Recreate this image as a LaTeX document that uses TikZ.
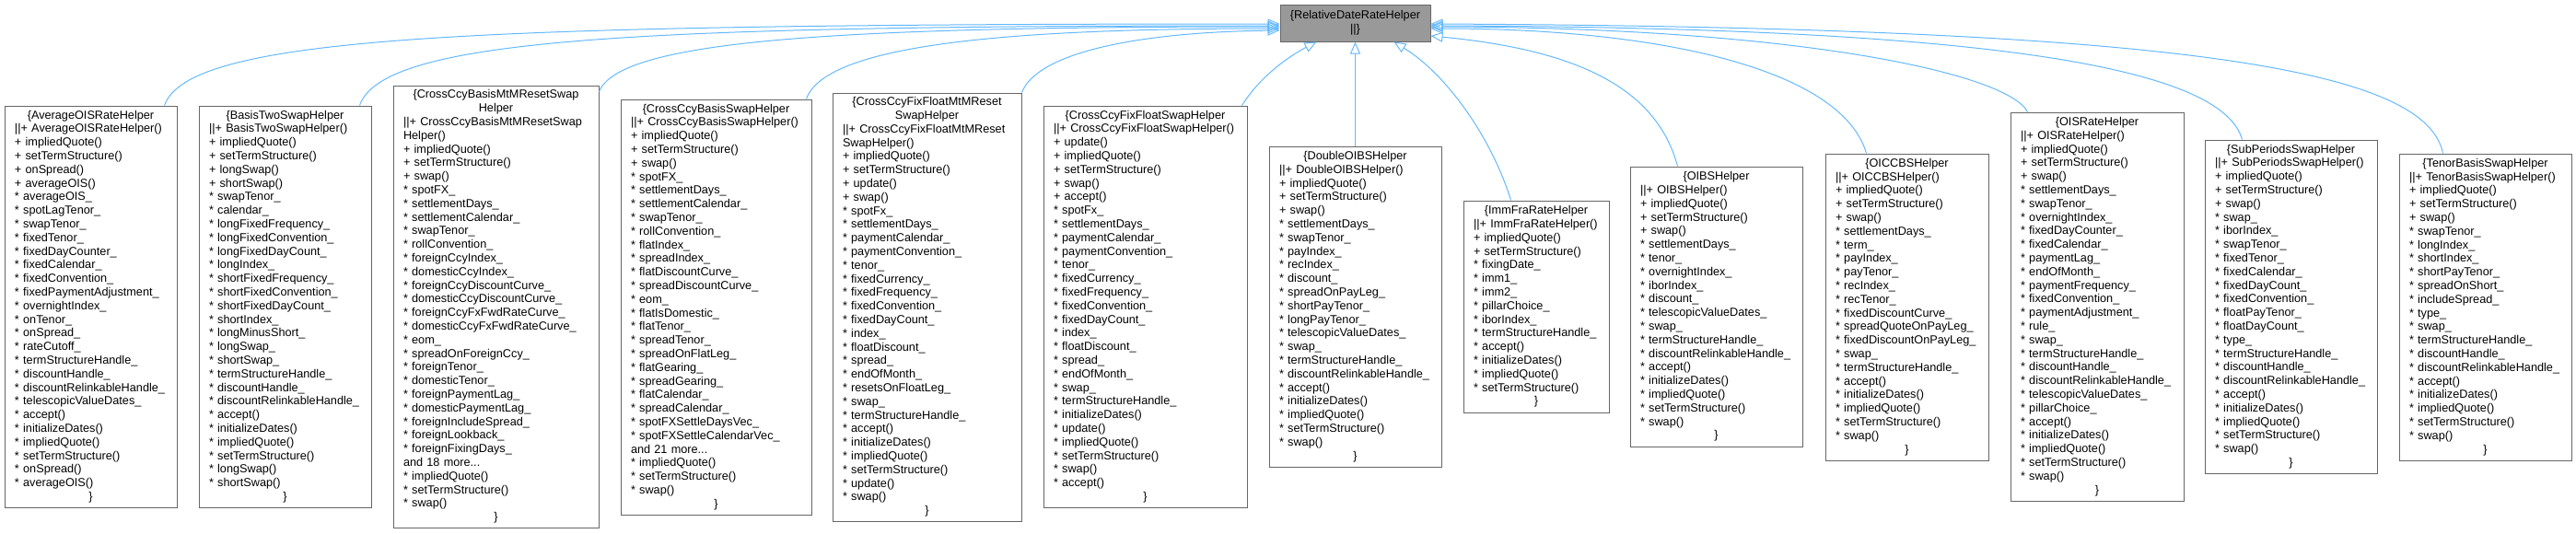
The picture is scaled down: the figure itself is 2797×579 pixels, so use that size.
\documentclass[tikz,border=0pt]{standalone}
\usepackage{fontspec}
\setmainfont{Liberation Sans}
\usetikzlibrary{arrows.meta}
\hyphenpenalty=10000
\exhyphenpenalty=10000
\definecolor{edgeblue}{HTML}{63B8FF}
\definecolor{boxgray}{HTML}{666666}
\definecolor{topfill}{HTML}{999999}
\newcommand\hd[1]{\makebox[\linewidth][c]{#1}}
\begin{document}
\begin{tikzpicture}[x=1pt,y=-1pt,
  cls/.style={draw=boxgray, line width=1pt, fill=white, inner xsep=11pt, inner ysep=0pt,
    font=\fontsize{12.7}{14.8}\selectfont, align=left,
    execute at begin node={\hyphenpenalty=10000\relax}},
  topcls/.style={draw=boxgray, line width=1pt, fill=topfill, inner sep=0pt,
    font=\fontsize{12.7}{14.8}\selectfont, align=center},
  edge/.style={draw=edgeblue, line width=1pt, -{Triangle[open,length=13pt,width=11pt]}}]
\useasboundingbox (0,0) rectangle (2797,579);

\node[topcls, minimum width=163pt, minimum height=40pt] (top) at (1471.5,25)
  {\{RelativeDateRateHelper\\||\}};

\node[cls, text width=165pt, minimum height=436pt] (c1) at (98.5,333) {\hd{\{AverageOISRateHelper}\\
||+~AverageOISRateHelper()\\
+~impliedQuote()\\
+~setTermStructure()\\
+~onSpread()\\
+~averageOIS()\\
{*}~averageOIS\_\\
{*}~spotLagTenor\_\\
{*}~swapTenor\_\\
{*}~fixedTenor\_\\
{*}~fixedDayCounter\_\\
{*}~fixedCalendar\_\\
{*}~fixedConvention\_\\
{*}~fixedPaymentAdjustment\_\\
{*}~overnightIndex\_\\
{*}~onTenor\_\\
{*}~onSpread\_\\
{*}~rateCutoff\_\\
{*}~termStructureHandle\_\\
{*}~discountHandle\_\\
{*}~discountRelinkableHandle\_\\
{*}~telescopicValueDates\_\\
{*}~accept()\\
{*}~initializeDates()\\
{*}~impliedQuote()\\
{*}~setTermStructure()\\
{*}~onSpread()\\
{*}~averageOIS()\\
\hd{\}}};

\node[cls, text width=165pt, minimum height=436pt] (c2) at (309.5,333) {\hd{\{BasisTwoSwapHelper}\\
||+~BasisTwoSwapHelper()\\
+~impliedQuote()\\
+~setTermStructure()\\
+~longSwap()\\
+~shortSwap()\\
{*}~swapTenor\_\\
{*}~calendar\_\\
{*}~longFixedFrequency\_\\
{*}~longFixedConvention\_\\
{*}~longFixedDayCount\_\\
{*}~longIndex\_\\
{*}~shortFixedFrequency\_\\
{*}~shortFixedConvention\_\\
{*}~shortFixedDayCount\_\\
{*}~shortIndex\_\\
{*}~longMinusShort\_\\
{*}~longSwap\_\\
{*}~shortSwap\_\\
{*}~termStructureHandle\_\\
{*}~discountHandle\_\\
{*}~discountRelinkableHandle\_\\
{*}~accept()\\
{*}~initializeDates()\\
{*}~impliedQuote()\\
{*}~setTermStructure()\\
{*}~longSwap()\\
{*}~shortSwap()\\
\hd{\}}};

\node[cls, text width=201pt, minimum height=480pt] (c3) at (538.5,333) {\hd{\{CrossCcyBasisMtMResetSwap}\\
\hd{Helper}\\
||+~CrossCcyBasisMtMResetSwap\\
Helper()\\
+~impliedQuote()\\
+~setTermStructure()\\
+~swap()\\
{*}~spotFX\_\\
{*}~settlementDays\_\\
{*}~settlementCalendar\_\\
{*}~swapTenor\_\\
{*}~rollConvention\_\\
{*}~foreignCcyIndex\_\\
{*}~domesticCcyIndex\_\\
{*}~foreignCcyDiscountCurve\_\\
{*}~domesticCcyDiscountCurve\_\\
{*}~foreignCcyFxFwdRateCurve\_\\
{*}~domesticCcyFxFwdRateCurve\_\\
{*}~eom\_\\
{*}~spreadOnForeignCcy\_\\
{*}~foreignTenor\_\\
{*}~domesticTenor\_\\
{*}~foreignPaymentLag\_\\
{*}~domesticPaymentLag\_\\
{*}~foreignIncludeSpread\_\\
{*}~foreignLookback\_\\
{*}~foreignFixingDays\_\\
and~18~more...\\
{*}~impliedQuote()\\
{*}~setTermStructure()\\
{*}~swap()\\
\hd{\}}};

\node[cls, text width=185pt, minimum height=451pt] (c4) at (777.5,333.5) {\hd{\{CrossCcyBasisSwapHelper}\\
||+~CrossCcyBasisSwapHelper()\\
+~impliedQuote()\\
+~setTermStructure()\\
+~swap()\\
{*}~spotFX\_\\
{*}~settlementDays\_\\
{*}~settlementCalendar\_\\
{*}~swapTenor\_\\
{*}~rollConvention\_\\
{*}~flatIndex\_\\
{*}~spreadIndex\_\\
{*}~flatDiscountCurve\_\\
{*}~spreadDiscountCurve\_\\
{*}~eom\_\\
{*}~flatIsDomestic\_\\
{*}~flatTenor\_\\
{*}~spreadTenor\_\\
{*}~spreadOnFlatLeg\_\\
{*}~flatGearing\_\\
{*}~spreadGearing\_\\
{*}~flatCalendar\_\\
{*}~spreadCalendar\_\\
{*}~spotFXSettleDaysVec\_\\
{*}~spotFXSettleCalendarVec\_\\
and~21~more...\\
{*}~impliedQuote()\\
{*}~setTermStructure()\\
{*}~swap()\\
\hd{\}}};

\node[cls, text width=183pt, minimum height=465pt] (c5) at (1006.5,333.5) {\hd{\{CrossCcyFixFloatMtMReset}\\
\hd{SwapHelper}\\
||+~CrossCcyFixFloatMtMReset\\
SwapHelper()\\
+~impliedQuote()\\
+~setTermStructure()\\
+~update()\\
+~swap()\\
{*}~spotFx\_\\
{*}~settlementDays\_\\
{*}~paymentCalendar\_\\
{*}~paymentConvention\_\\
{*}~tenor\_\\
{*}~fixedCurrency\_\\
{*}~fixedFrequency\_\\
{*}~fixedConvention\_\\
{*}~fixedDayCount\_\\
{*}~index\_\\
{*}~floatDiscount\_\\
{*}~spread\_\\
{*}~endOfMonth\_\\
{*}~resetsOnFloatLeg\_\\
{*}~swap\_\\
{*}~termStructureHandle\_\\
{*}~accept()\\
{*}~initializeDates()\\
{*}~impliedQuote()\\
{*}~setTermStructure()\\
{*}~update()\\
{*}~swap()\\
\hd{\}}};

\node[cls, text width=199pt, minimum height=436pt] (c6) at (1243.5,333) {\hd{\{CrossCcyFixFloatSwapHelper}\\
||+~CrossCcyFixFloatSwapHelper()\\
+~update()\\
+~impliedQuote()\\
+~setTermStructure()\\
+~swap()\\
+~accept()\\
{*}~spotFx\_\\
{*}~settlementDays\_\\
{*}~paymentCalendar\_\\
{*}~paymentConvention\_\\
{*}~tenor\_\\
{*}~fixedCurrency\_\\
{*}~fixedFrequency\_\\
{*}~fixedConvention\_\\
{*}~fixedDayCount\_\\
{*}~index\_\\
{*}~floatDiscount\_\\
{*}~spread\_\\
{*}~endOfMonth\_\\
{*}~swap\_\\
{*}~termStructureHandle\_\\
{*}~initializeDates()\\
{*}~update()\\
{*}~impliedQuote()\\
{*}~setTermStructure()\\
{*}~swap()\\
{*}~accept()\\
\hd{\}}};

\node[cls, text width=165pt, minimum height=348pt] (c7) at (1471.5,333) {\hd{\{DoubleOIBSHelper}\\
||+~DoubleOIBSHelper()\\
+~impliedQuote()\\
+~setTermStructure()\\
+~swap()\\
{*}~settlementDays\_\\
{*}~swapTenor\_\\
{*}~payIndex\_\\
{*}~recIndex\_\\
{*}~discount\_\\
{*}~spreadOnPayLeg\_\\
{*}~shortPayTenor\_\\
{*}~longPayTenor\_\\
{*}~telescopicValueDates\_\\
{*}~swap\_\\
{*}~termStructureHandle\_\\
{*}~discountRelinkableHandle\_\\
{*}~accept()\\
{*}~initializeDates()\\
{*}~impliedQuote()\\
{*}~setTermStructure()\\
{*}~swap()\\
\hd{\}}};

\node[cls, text width=136pt, minimum height=230pt] (c8) at (1668,333) {\hd{\{ImmFraRateHelper}\\
||+~ImmFraRateHelper()\\
+~impliedQuote()\\
+~setTermStructure()\\
{*}~fixingDate\_\\
{*}~imm1\_\\
{*}~imm2\_\\
{*}~pillarChoice\_\\
{*}~iborIndex\_\\
{*}~termStructureHandle\_\\
{*}~accept()\\
{*}~initializeDates()\\
{*}~impliedQuote()\\
{*}~setTermStructure()\\
\hd{\}}};

\node[cls, text width=165pt, minimum height=304pt] (c9) at (1863.5,333) {\hd{\{OIBSHelper}\\
||+~OIBSHelper()\\
+~impliedQuote()\\
+~setTermStructure()\\
+~swap()\\
{*}~settlementDays\_\\
{*}~tenor\_\\
{*}~overnightIndex\_\\
{*}~iborIndex\_\\
{*}~discount\_\\
{*}~telescopicValueDates\_\\
{*}~swap\_\\
{*}~termStructureHandle\_\\
{*}~discountRelinkableHandle\_\\
{*}~accept()\\
{*}~initializeDates()\\
{*}~impliedQuote()\\
{*}~setTermStructure()\\
{*}~swap()\\
\hd{\}}};

\node[cls, text width=155pt, minimum height=333pt] (c10) at (2070.5,333.5) {\hd{\{OICCBSHelper}\\
||+~OICCBSHelper()\\
+~impliedQuote()\\
+~setTermStructure()\\
+~swap()\\
{*}~settlementDays\_\\
{*}~term\_\\
{*}~payIndex\_\\
{*}~payTenor\_\\
{*}~recIndex\_\\
{*}~recTenor\_\\
{*}~fixedDiscountCurve\_\\
{*}~spreadQuoteOnPayLeg\_\\
{*}~fixedDiscountOnPayLeg\_\\
{*}~swap\_\\
{*}~termStructureHandle\_\\
{*}~accept()\\
{*}~initializeDates()\\
{*}~impliedQuote()\\
{*}~setTermStructure()\\
{*}~swap()\\
\hd{\}}};

\node[cls, text width=166pt, minimum height=422pt] (c11) at (2277,333) {\hd{\{OISRateHelper}\\
||+~OISRateHelper()\\
+~impliedQuote()\\
+~setTermStructure()\\
+~swap()\\
{*}~settlementDays\_\\
{*}~swapTenor\_\\
{*}~overnightIndex\_\\
{*}~fixedDayCounter\_\\
{*}~fixedCalendar\_\\
{*}~paymentLag\_\\
{*}~endOfMonth\_\\
{*}~paymentFrequency\_\\
{*}~fixedConvention\_\\
{*}~paymentAdjustment\_\\
{*}~rule\_\\
{*}~swap\_\\
{*}~termStructureHandle\_\\
{*}~discountHandle\_\\
{*}~discountRelinkableHandle\_\\
{*}~telescopicValueDates\_\\
{*}~pillarChoice\_\\
{*}~accept()\\
{*}~initializeDates()\\
{*}~impliedQuote()\\
{*}~setTermStructure()\\
{*}~swap()\\
\hd{\}}};

\node[cls, text width=165pt, minimum height=362pt] (c12) at (2487.5,333) {\hd{\{SubPeriodsSwapHelper}\\
||+~SubPeriodsSwapHelper()\\
+~impliedQuote()\\
+~setTermStructure()\\
+~swap()\\
{*}~swap\_\\
{*}~iborIndex\_\\
{*}~swapTenor\_\\
{*}~fixedTenor\_\\
{*}~fixedCalendar\_\\
{*}~fixedDayCount\_\\
{*}~fixedConvention\_\\
{*}~floatPayTenor\_\\
{*}~floatDayCount\_\\
{*}~type\_\\
{*}~termStructureHandle\_\\
{*}~discountHandle\_\\
{*}~discountRelinkableHandle\_\\
{*}~accept()\\
{*}~initializeDates()\\
{*}~impliedQuote()\\
{*}~setTermStructure()\\
{*}~swap()\\
\hd{\}}};

\node[cls, text width=165pt, minimum height=333pt] (c13) at (2698.5,333.5) {\hd{\{TenorBasisSwapHelper}\\
||+~TenorBasisSwapHelper()\\
+~impliedQuote()\\
+~setTermStructure()\\
+~swap()\\
{*}~swapTenor\_\\
{*}~longIndex\_\\
{*}~shortIndex\_\\
{*}~shortPayTenor\_\\
{*}~spreadOnShort\_\\
{*}~includeSpread\_\\
{*}~type\_\\
{*}~swap\_\\
{*}~termStructureHandle\_\\
{*}~discountHandle\_\\
{*}~discountRelinkableHandle\_\\
{*}~accept()\\
{*}~initializeDates()\\
{*}~impliedQuote()\\
{*}~setTermStructure()\\
{*}~swap()\\
\hd{\}}};

% inheritance connectors
\draw[edge] ([xshift=-14pt]c1.north east) .. controls +(27,-75) and +(-890,0) .. ([yshift=-1pt]top.west);
\draw[edge] ([xshift=-13pt]c2.north east) .. controls +(25,-73) and +(-700,0) .. ([yshift=-3pt]top.west);
\draw[edge] ([yshift=-7pt]c3.north east) .. controls +(22,-55) and +(-490,0) .. ([yshift=-4pt]top.west);
\draw[edge] ([xshift=-6pt]c4.north east) .. controls +(20,-57) and +(-310,0) .. ([yshift=-6pt]top.west);
\draw[edge] (c5.north east) .. controls +(16,-42) and +(-160,2) .. ([yshift=-8pt]top.west);
\draw[edge] ([xshift=-6pt]c6.north east) .. controls +(22,-35) and +(-25,13) .. ([xshift=40pt]top.south west);
\draw[edge] (c7.north) -- (top.south);
\draw[edge] ([xshift=52pt]c8.north west) .. controls +(-21,-68) and +(57,35) .. ([xshift=-40pt]top.south east);
\draw[edge] ([xshift=52pt]c9.north west) .. controls +(-22,-81) and +(167,16) .. ([yshift=-14pt]top.east);
\draw[edge] ([xshift=45pt]c10.north west) .. controls +(-27,-92) and +(247,0) .. ([yshift=-6pt]top.east);
\draw[edge] ([xshift=19pt]c11.north west) .. controls +(-22,-42) and +(397,1) .. ([yshift=-4pt]top.east);
\draw[edge] ([xshift=41pt]c12.north west) .. controls +(-20,-72) and +(647,2) .. ([yshift=-3pt]top.east);
\draw[edge] ([xshift=48pt]c13.north west) .. controls +(-18,-87) and +(847,4) .. ([yshift=-1pt]top.east);
\end{tikzpicture}
\end{document}
